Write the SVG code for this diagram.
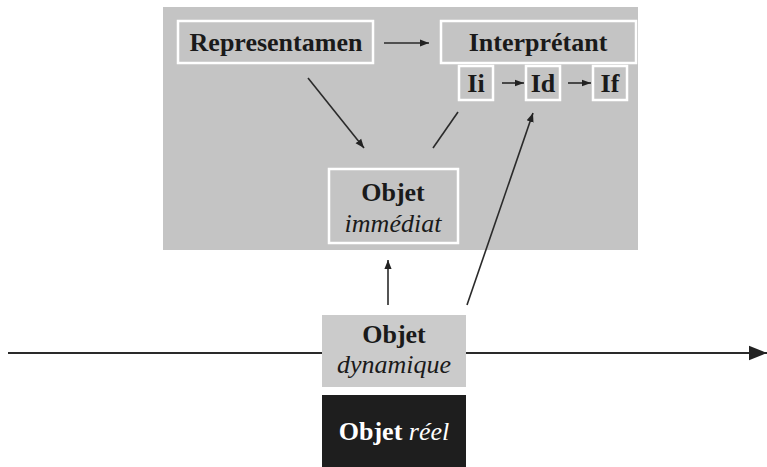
<svg xmlns="http://www.w3.org/2000/svg" width="767" height="467" viewBox="0 0 767 467">
<defs>
<marker id="ah" viewBox="0 0 10 10" refX="10" refY="5" markerWidth="9" markerHeight="9" orient="auto" markerUnits="userSpaceOnUse">
<path d="M0,1 L10,5 L0,9 z" fill="#222"/>
</marker>
<marker id="ahs" viewBox="0 0 10 10" refX="10" refY="5" markerWidth="9" markerHeight="9" orient="auto" markerUnits="userSpaceOnUse">
<path d="M0,1.5 L10,5 L0,8.5 z" fill="#222"/>
</marker>
<marker id="ahb" viewBox="0 0 10 10" refX="10" refY="5" markerWidth="18" markerHeight="18" orient="auto" markerUnits="userSpaceOnUse">
<path d="M0,1 L10,5 L0,9 z" fill="#222"/>
</marker>
</defs>
<style>
text{font-family:"Liberation Serif","Times New Roman",serif;fill:#1a1a1a;text-anchor:middle}
.b{font-weight:bold;font-size:26px}
.i{font-style:italic;font-size:26px}
.box{fill:#c4c4c4;stroke:#fff;stroke-width:2.5}
.ln{stroke:#2a2a2a;stroke-width:1.6;fill:none}
</style>
<rect width="767" height="467" fill="#fff"/>
<rect id="panel" x="163" y="7" width="475" height="243" fill="#c4c4c4"/>
<g id="representamen"><rect class="box" x="178" y="21" width="195" height="42"/><text class="b" x="276" y="51">Representamen</text></g>
<g id="interpretant"><rect class="box" x="441" y="21" width="195" height="42"/><text class="b" x="538" y="51">Interprétant</text></g>
<g id="ii"><rect class="box" x="459" y="66" width="34" height="34"/><text class="b" x="476" y="92">Ii</text></g>
<g id="id"><rect class="box" x="526" y="66" width="34" height="34"/><text class="b" x="543" y="92">Id</text></g>
<g id="if"><rect class="box" x="593" y="66" width="34" height="34"/><text class="b" x="610" y="92">If</text></g>
<g id="objet-immediat"><rect class="box" x="329" y="169" width="129" height="74"/><text class="b" x="393" y="201">Objet</text><text class="i" x="393" y="232">immédiat</text></g>
<g id="objet-dynamique"><rect x="322" y="315" width="144" height="72" fill="#cbcbcb"/><text class="b" x="394" y="343">Objet</text><text class="i" x="394" y="373">dynamique</text></g>
<g id="objet-reel"><rect x="322" y="395" width="144" height="72" fill="#1e1e1e"/><text class="b" x="394" y="440" style="fill:#fff;text-anchor:middle"><tspan>Objet </tspan><tspan style="font-style:italic;font-weight:normal">réel</tspan></text></g>
<g id="connectors">
<line class="ln" x1="384" y1="43" x2="429" y2="43" marker-end="url(#ah)"/>
<line class="ln" x1="502" y1="83" x2="524" y2="83" marker-end="url(#ahs)"/>
<line class="ln" x1="568" y1="83" x2="591" y2="83" marker-end="url(#ahs)"/>
<line class="ln" x1="308" y1="78" x2="364" y2="148" marker-end="url(#ah)"/>
<line class="ln" x1="458" y1="112" x2="433" y2="148"/>
<line class="ln" x1="467" y1="305" x2="533" y2="113" marker-end="url(#ah)"/>
<line class="ln" x1="388" y1="305" x2="388" y2="260" marker-end="url(#ah)"/>
<line x1="8" y1="353" x2="322" y2="353" stroke="#2a2a2a" stroke-width="2.2"/>
<line x1="466" y1="353" x2="767" y2="353" stroke="#2a2a2a" stroke-width="2.2" marker-end="url(#ahb)"/>
</g>
</svg>
